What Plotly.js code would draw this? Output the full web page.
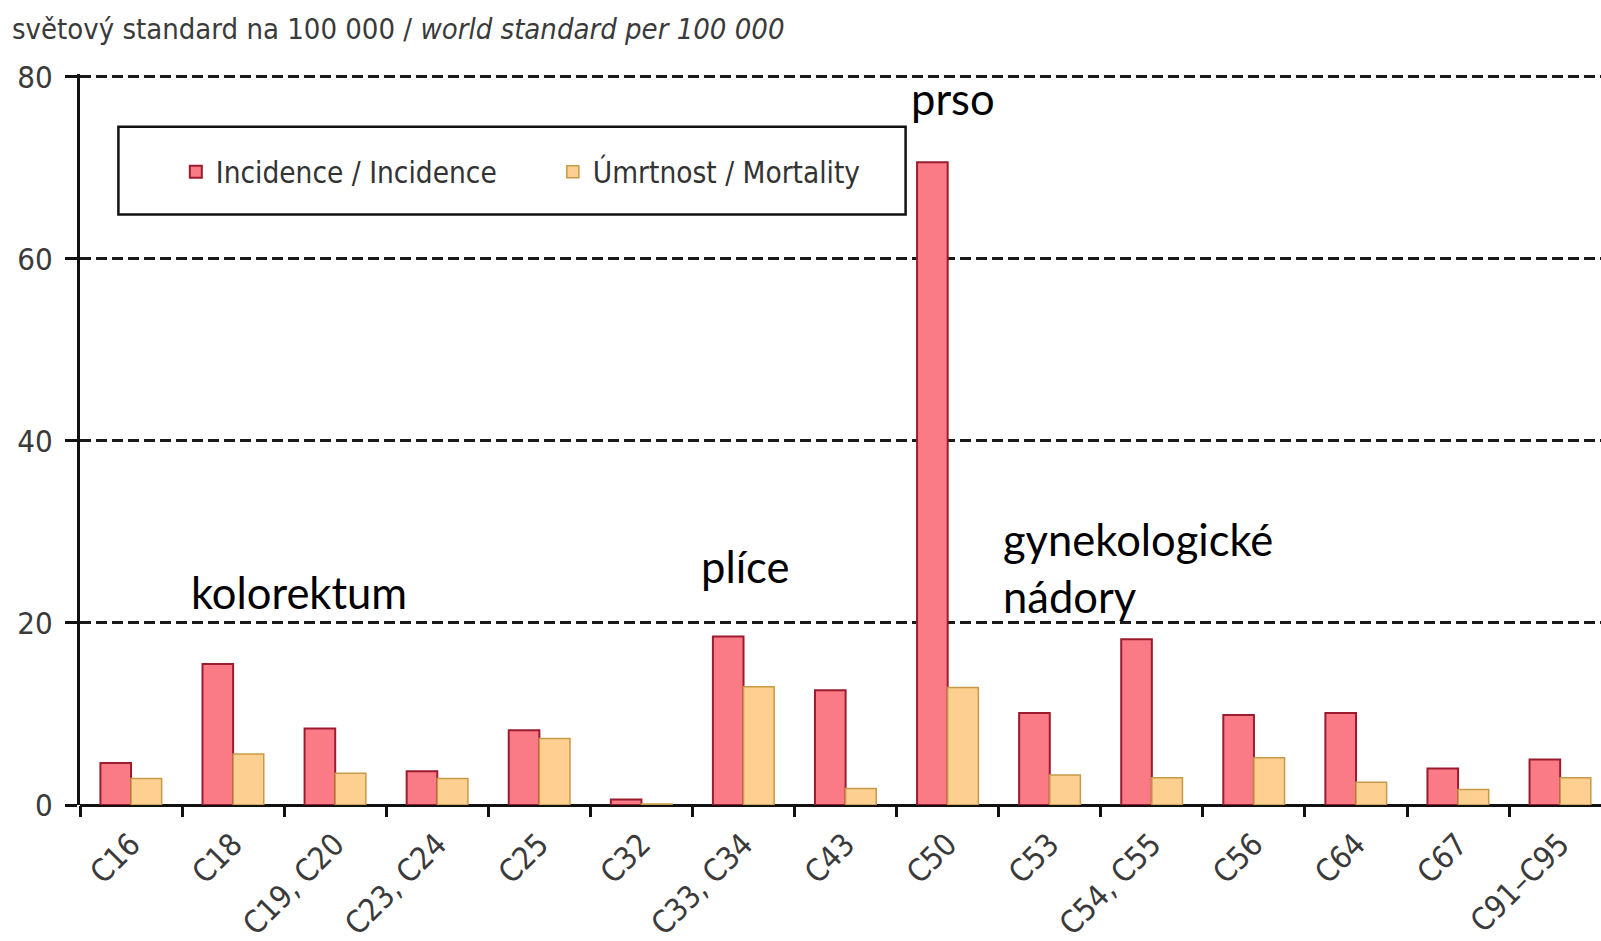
<!DOCTYPE html>
<html>
<head>
<meta charset="utf-8">
<script src="https://cdn.plot.ly/plotly-3.0.1.min.js"></script>
<style>html,body{margin:0;padding:0;background:#fff;}#chart{width:1601px;height:941px;}</style>
</head>
<body>
<div id="chart"></div>
<script>
const categories = ['C16','C18','C19, C20','C23, C24','C25','C32','C33, C34','C43','C50','C53','C54, C55','C56','C64','C67','C91–C95'];
const incidence = [4.6,15.5,8.4,3.7,8.2,0.6,18.5,12.6,70.6,10.1,18.2,9.9,10.1,4.0,5.0];
const mortality = [2.9,5.6,3.5,2.9,7.3,0.1,13.0,1.8,12.9,3.3,3.0,5.2,2.5,1.7,3.0];
const seriesNames = ['Incidence / Incidence','Úmrtnost / Mortality'];
const yTicks = [0,20,40,60,80];
const titleText = 'světový standard na 100 000 / <i>world standard per 100 000</i>';

const narrow = '"DejaVu Sans Condensed", "Liberation Sans Narrow", sans-serif';
const calib = 'Lato, "Open Sans", sans-serif';

const traces = [
  {type:'bar', name:seriesNames[0], x:categories, y:incidence,
   marker:{color:'#fa7a86', line:{color:'#9a1c2e', width:2}}},
  {type:'bar', name:seriesNames[1], x:categories, y:mortality,
   marker:{color:'#fdcf90', line:{color:'#c69a48', width:1.5}}}
];

const layout = {
  width:1601, height:941,
  margin:{l:80, r:0, t:74, b:136},
  paper_bgcolor:'#fff', plot_bgcolor:'#fff',
  barmode:'group', bargap:0.4, bargroupgap:0,
  title:{text:titleText, x:0.0075, xanchor:'left', xref:'container', y:0.969, yanchor:'middle',
         font:{family:narrow, size:29, color:'#3a3a3a'}},
  xaxis:{type:'category', range:[-0.5,14.4], tickson:'boundaries', ticks:'outside', ticklen:11, tickwidth:3, tickcolor:'#111',
         showline:false, showgrid:false, tickangle:-45, ticklabelstandoff:14,
         tickfont:{family:narrow, size:31, color:'#3a3a3a'}, fixedrange:true},
  yaxis:{range:[0,80.3], tickvals:yTicks, ticks:'outside', ticklen:12, tickwidth:3, tickcolor:'#111',
         showline:true, linecolor:'#111', linewidth:3, showgrid:true, gridcolor:'#1a1a1a', gridwidth:3, griddash:'11px,5px',
         zeroline:true, zerolinecolor:'#111', zerolinewidth:3, ticklabelstandoff:6,
         tickfont:{family:narrow, size:31, color:'#3a3a3a'}},
  showlegend:true,
  legend:{orientation:'h', x:0.063, xanchor:'left', y:0.866, yanchor:'middle', bgcolor:'rgba(0,0,0,0)', borderwidth:0,
          font:{family:narrow, size:29.5, color:'#333'}, entrywidth:332, traceorder:'normal'},
  shapes:[
    {type:'rect', xref:'paper', yref:'paper', x0:0.02525, x1:0.5428, y0:0.8079, y1:0.9280,
     line:{color:'#111', width:2.5}, fillcolor:'#fff', layer:'above'}
  ],
  annotations:[
    {text:'kolorektum', x:0.57, y:20.3, xref:'x', yref:'y', xanchor:'left', yanchor:'bottom', showarrow:false,
     font:{family:calib, size:43.5, color:'#000'}},
    {text:'plíce', x:5.56, y:23.2, xref:'x', yref:'y', xanchor:'left', yanchor:'bottom', showarrow:false,
     font:{family:calib, size:43.5, color:'#000'}},
    {text:'prso', x:7.62, y:74.6, xref:'x', yref:'y', xanchor:'left', yanchor:'bottom', showarrow:false,
     font:{family:calib, size:43.5, color:'#000'}},
    {text:'gynekologické<br>nádory', x:8.52, y:19.9, xref:'x', yref:'y', xanchor:'left', yanchor:'bottom', align:'left', showarrow:false,
     font:{family:calib, size:43.5, color:'#000'}}
  ]
};

Plotly.newPlot('chart', traces, layout, {displayModeBar:false, staticPlot:true});
</script>
</body>
</html>
